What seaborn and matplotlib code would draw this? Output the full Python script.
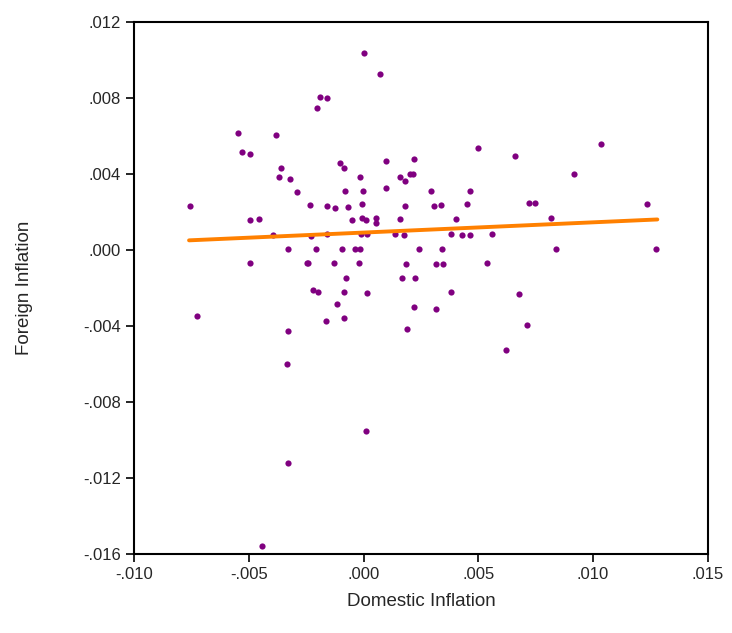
import matplotlib
matplotlib.use("Agg")
from matplotlib import pyplot as plt
from matplotlib.ticker import FuncFormatter
import pandas as pd
import seaborn as sns

# domestic / foreign inflation (units of 0.001)
domestic = [-7.57, -7.26, -5.46, -5.31, -4.95, -4.96, -4.54, -4.96, -3.80, -3.58,
            -3.70, -3.20, -2.90, -3.93, -3.29, -3.30, -3.35, -2.33, -2.27, -2.08,
            -2.45, -2.40, -2.21, -1.97, -2.02, -1.89, -1.57, -1.60, -1.60, -1.25,
            -1.30, -1.65, -1.17, -1.03, -0.86, -0.82, -0.67, -0.93, -0.77, -0.86,
            -0.86, -0.51, -0.38, -0.16, -0.17, -0.01, -0.07, -0.07, 0.09, -0.10,
            0.16, -0.19, 0.16, 0.54, 0.55, 0.96, 0.96, 1.35, 1.60, 1.60,
            1.80, 1.82, 1.78, 1.86, 1.66, 2.23, 2.18, 1.88, 2.01, 2.14,
            2.21, 2.40, 2.96, 3.07, 3.36, 4.02, 3.81, 4.28, 4.63, 3.42,
            3.16, 3.45, 3.79, 3.16, 4.98, 4.66, 4.51, 5.36, 5.59, 6.59,
            7.23, 7.47, 8.17, 8.38, 9.16, 10.36, 12.34, 12.75, 6.77, 7.12,
            6.21, 0.00, 0.74, 0.10, -3.28, -4.41]
foreign = [2.33, -3.46, 6.17, 5.16, 5.05, 1.56, 1.63, -0.70, 6.05, 4.32,
           3.86, 3.75, 3.07, 0.81, 0.05, -4.25, -5.98, 2.37, 0.75, 0.05,
           -0.70, -0.70, -2.11, -2.21, 7.49, 8.05, 7.98, 2.33, 0.82, 2.19,
           -0.70, -3.72, -2.86, 4.60, 4.30, 3.11, 2.26, 0.05, -1.47, -2.21,
           -3.56, 1.60, 0.05, 0.05, 3.84, 3.11, 2.40, 1.67, 1.58, 0.82,
           0.82, -0.68, -2.25, 1.67, 1.44, 4.68, 3.25, 0.84, 1.61, 3.84,
           3.63, 2.32, 0.81, -0.72, -1.47, -1.47, -3.00, -4.16, 4.00, 4.00,
           4.81, 0.05, 3.12, 2.33, 2.38, 1.61, 0.84, 0.77, 0.81, 0.05,
           -0.72, -0.72, -2.21, -3.12, 5.35, 3.11, 2.40, -0.70, 0.84, 4.96,
           2.46, 2.46, 1.67, 0.05, 4.02, 5.61, 2.42, 0.05, -2.32, -3.93,
           -5.26, 10.37, 9.26, -9.53, -11.20, -15.58]
fit_x = [-7.6, 12.8]
fit_y = [0.51, 1.61]

df = pd.DataFrame({"Domestic Inflation": [v / 1000 for v in domestic],
                   "Foreign Inflation": [v / 1000 for v in foreign]})
fit = pd.DataFrame({"x": [v / 1000 for v in fit_x], "y": [v / 1000 for v in fit_y]})

sns.set_style("white")
plt.rcParams["font.family"] = ["Liberation Sans", "DejaVu Sans"]
fig = plt.figure(figsize=(7.32, 6.33), dpi=100)
ax = fig.add_axes([0.183, 0.125, 0.784, 0.840])

sns.scatterplot(data=df, x="Domestic Inflation", y="Foreign Inflation", ax=ax,
                color="#800080", s=20, linewidth=0)
sns.lineplot(data=fit, x="x", y="y", ax=ax, color="#ff8000", linewidth=2.8)

ax.set_xlim(-0.010, 0.015)
ax.set_ylim(-0.016, 0.012)
ax.set_xticks([-0.010, -0.005, 0.0, 0.005, 0.010, 0.015])
ax.set_yticks([-0.016, -0.012, -0.008, -0.004, 0.0, 0.004, 0.008, 0.012])
fmt = FuncFormatter(lambda v, p: ("-" if v < -1e-12 else "") + ("%.3f" % abs(v))[1:])
ax.xaxis.set_major_formatter(fmt)
ax.yaxis.set_major_formatter(fmt)
ax.tick_params(direction="out", length=6, width=1.2, labelsize=12, color="black",
               bottom=True, left=True)
for sp in ax.spines.values():
    sp.set_linewidth(1.5)
    sp.set_color("black")
ax.set_xlabel("Domestic Inflation", fontsize=13.5, labelpad=8)
ax.set_ylabel("Foreign Inflation", fontsize=13.5, labelpad=36)

fig.savefig("out.png", dpi=100)
